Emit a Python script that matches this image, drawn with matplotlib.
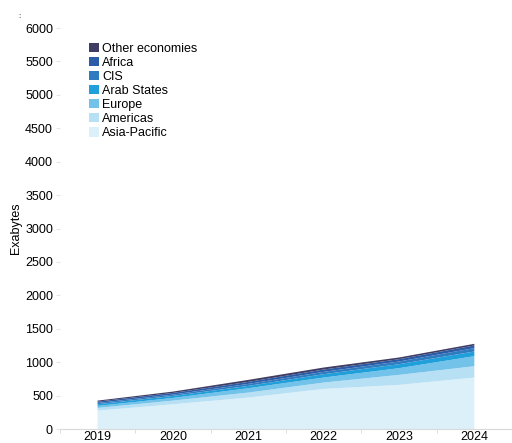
import numpy as np
import matplotlib.pyplot as plt
from matplotlib.patches import Patch

plt.rcParams['font.family'] = ['Liberation Sans', 'DejaVu Sans']

years = [2019, 2020, 2021, 2022, 2023, 2024]

# stacked layers, bottom to top (exabytes)
regions = ["Asia-Pacific", "Americas", "Europe", "Arab States", "CIS", "Africa", "Other economies"]
asia_pacific = [275, 370, 470, 600, 660, 770]
americas = [40, 55, 75, 95, 150, 170]
europe = [30, 40, 65, 75, 100, 150]
arab_states = [25, 30, 35, 50, 60, 70]
cis = [20, 20, 30, 35, 40, 50]
africa = [20, 25, 30, 35, 35, 40]
other = [15, 20, 30, 30, 25, 25]

colors = ["#dcf0f9", "#b8e0f5", "#72c2ea", "#20a0da", "#2f7bbf", "#2b5ca8", "#3f3d63"]

fig = plt.figure(figsize=(5.12, 4.43), dpi=100)
ax = fig.add_axes([0.117, 0.0316, 0.883, 0.905])

series = [asia_pacific, americas, europe, arab_states, cis, africa, other]
ax.stackplot(years, *series, colors=colors, linewidth=0)

ax.set_xlim(2018.53, 2024.46)
ax.set_ylim(0, 6000)
ax.set_yticks(np.arange(0, 6001, 500))
ax.set_xticks(years)
ax.set_xticks(np.arange(2018.5, 2025, 1), minor=True)
ax.tick_params(axis='x', which='major', length=0, labelsize=9, pad=1.5)
ax.tick_params(axis='x', which='minor', length=3, color='#d9d9d9')
ax.tick_params(axis='y', length=3, color='#e6e6e6', labelsize=9, pad=2)

for s in ['top', 'right', 'left']:
    ax.spines[s].set_visible(False)
ax.spines['bottom'].set_color('#d9d9d9')

ax.set_ylabel("Exabytes", fontsize=9, labelpad=2)

handles = [Patch(facecolor=c) for c in colors[::-1]]
fig.legend(handles, regions[::-1], loc='upper left', bbox_to_anchor=(0.165, 0.915),
           frameon=False, fontsize=9, handlelength=0.75, handleheight=0.75,
           handletextpad=0.25, labelspacing=0.17, borderaxespad=0)

fig.text(0.035, 0.96, ":", fontsize=6)

fig.savefig("out.png", dpi=100)
